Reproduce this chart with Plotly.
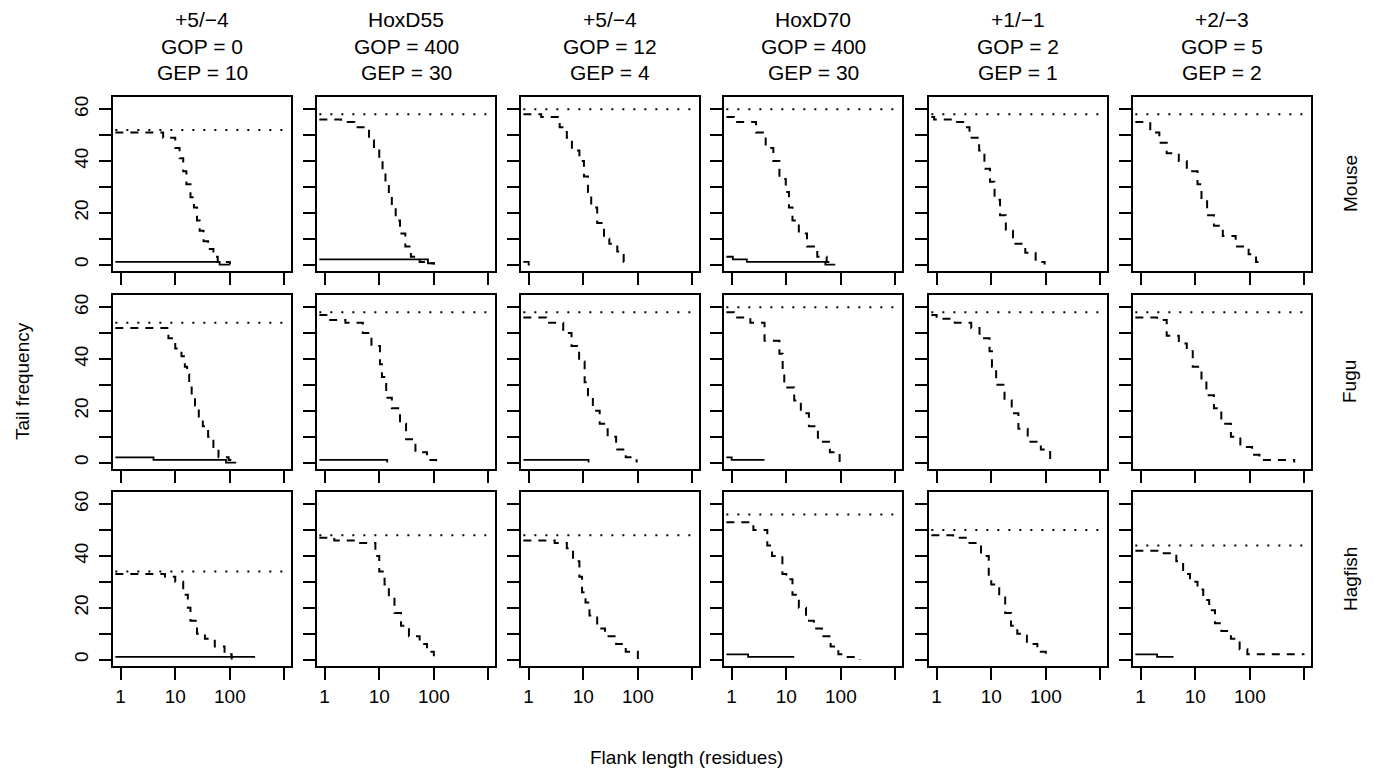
import plotly.graph_objects as go

# ---------------- data ----------------
col_line1 = ["+5/\u22124", "HoxD55", "+5/\u22124", "HoxD70", "+1/\u22121", "+2/\u22123"]
col_line2 = ["GOP = 0", "GOP = 400", "GOP = 12", "GOP = 400", "GOP = 2", "GOP = 5"]
col_line3 = ["GEP = 10", "GEP = 30", "GEP = 4", "GEP = 30", "GEP = 1", "GEP = 2"]
row_names = ["Mouse", "Fugu", "Hagfish"]

x_ticks = [1, 10, 100, 1000]
x_tick_text = ["1", "10", "100", ""]
y_ticks = [0, 10, 20, 30, 40, 50, 60]
y_tick_text = ["0", "", "20", "", "40", "", "60"]

dotted_x = [0.8, 1000]
mouse_dotted = [52, 58, 60, 60, 58, 58]
fugu_dotted = [54, 58, 58, 60, 58, 58]
hagfish_dotted = [34, 48, 48, 56, 50, 44]

mouse_dash_x = [
    [0.8, 6, 10, 12, 14, 16, 19, 22, 25, 28, 33, 40, 50, 60, 100],
    [0.8, 2, 3.5, 6.5, 8, 10, 11.5, 13, 15, 17, 20, 24, 30, 38, 55, 80, 100],
    [0.8, 1.7, 3.7, 5, 6.2, 8.5, 10.3, 12.2, 14, 18, 24, 30, 42, 55, 66],
    [0.8, 1.1, 2.8, 4.2, 5.8, 7.5, 9.8, 11.2, 13, 17, 24, 37, 55, 75],
    [0.8, 0.9, 2, 3.3, 4, 6, 7.5, 9.5, 11.5, 14.5, 18.5, 25, 42, 65, 95],
    [0.8, 1.5, 2.2, 3, 5, 7, 11, 13, 16.5, 22, 32, 55, 95, 130, 165],
]
mouse_dash_y = [
    [51, 49, 45, 41, 36, 31, 26, 22, 17, 13, 9, 6, 3, 1, 0],
    [56, 55, 53, 48, 44, 40, 36, 32, 27, 22, 17, 12, 7, 3, 1, 0.5, 0],
    [58, 57, 53, 49, 44, 40, 34, 28, 22, 16, 10, 8, 5, 1, 0],
    [57, 55, 51, 45, 40, 33, 28, 22, 17, 12, 7, 3, 1, 0],
    [57, 56, 55, 53, 49, 44, 37, 32, 25, 19, 13, 8, 4.5, 1, 0],
    [55, 51, 47, 43, 40, 36, 31, 25, 19, 15, 11, 7, 4, 1, 0],
]
fugu_dash_x = [
    [0.8, 7.5, 10, 13, 15, 16.5, 18, 20, 23, 27, 32, 40, 50, 62, 95, 130],
    [0.8, 1.2, 2.4, 5, 7.2, 10.3, 11.2, 13.4, 17, 24, 31, 46, 75, 110],
    [0.8, 2.1, 4.3, 6.1, 8.4, 10.6, 12.2, 15, 20, 28, 40, 60, 95],
    [0.8, 1.1, 2.2, 4, 7.5, 8.6, 9.2, 14, 18.5, 26, 38, 63, 95],
    [0.8, 1, 2.15, 4.3, 6.1, 9.3, 10.3, 12.3, 17.5, 23.7, 31.4, 46.5, 81, 120],
    [0.8, 2, 3, 5, 7, 9, 13, 16, 22, 30, 45, 67, 110, 150, 650],
]
fugu_dash_y = [
    [52, 48, 44, 41, 37, 34, 30, 26, 22, 17, 14, 10, 6, 2, 1, 0],
    [57, 55, 54, 50, 45, 38, 33, 25, 21, 15, 9, 4, 1, 0],
    [56, 54, 50, 45, 39, 31, 26, 20, 15, 10, 5, 2, 0],
    [58, 56, 54, 47, 42, 36, 29, 24, 19, 14, 8, 4, 0],
    [57, 55.5, 54, 52, 48, 43, 37, 30, 24, 19, 13, 8, 5, 0],
    [56, 55, 49, 46, 43, 37, 32, 26, 21, 15, 10, 6, 3, 1, 0],
]
hagfish_dash_x = [
    [0.8, 6.5, 10, 14, 17, 19, 25, 35, 53, 80, 108],
    [0.8, 1.5, 4, 8.5, 10, 12.5, 15, 19, 25, 35, 55, 75, 100],
    [0.8, 3, 5, 6.5, 8.5, 9.5, 11, 13, 18, 25, 40, 60, 100],
    [0.8, 2.5, 4.5, 5.5, 8.5, 10, 13, 17, 23, 32, 45, 65, 90, 120, 220],
    [0.8, 2, 4, 6.5, 9, 10, 14, 18, 23, 30, 45, 70, 100],
    [0.8, 2.5, 4.5, 6, 8, 11, 14, 18, 23, 30, 45, 65, 90, 1000],
]
hagfish_dash_y = [
    [33, 32, 30, 25, 20, 15, 10, 8, 5, 2, 0],
    [47, 46, 45, 40, 34, 29, 24, 18, 13, 9, 6, 3, 0],
    [46, 45, 43, 38, 32, 26, 22, 17, 12, 9, 6, 3, 0],
    [53, 50, 44, 40, 33, 31, 25, 20, 15, 12, 9, 5, 2, 1, 0],
    [48, 47, 45, 40, 32, 29, 24, 18, 13, 10, 6, 3, 0],
    [42, 41, 38, 33, 30, 27, 23, 19, 14, 11, 8, 4, 2, 2],
]

mouse_solid_x = [[0.8, 65, 100], [0.8, 78, 100], [0.8, 1.0, 1.05], [0.8, 1.05, 1.9, 52, 79], [], []]
mouse_solid_y = [[1, 0, 0], [2, 0.5, 0], [1, 0, 0], [3, 2, 1, 0, 0], [], []]
fugu_solid_x = [[0.8, 4, 85, 130], [0.8, 14], [0.8, 12.5], [0.8, 1.0, 4], [], []]
fugu_solid_y = [[2, 1, 0, 0], [1, 0], [1, 0], [2, 1, 1], [], []]
hagfish_solid_x = [[0.8, 290], [], [], [0.8, 2, 14], [], [0.8, 2, 4]]
hagfish_solid_y = [[1, 1], [], [], [2, 1, 1], [], [2, 1, 1]]

dotted_rows = [mouse_dotted, fugu_dotted, hagfish_dotted]
dash_x_rows = [mouse_dash_x, fugu_dash_x, hagfish_dash_x]
dash_y_rows = [mouse_dash_y, fugu_dash_y, hagfish_dash_y]
solid_x_rows = [mouse_solid_x, fugu_solid_x, hagfish_solid_x]
solid_y_rows = [mouse_solid_y, fugu_solid_y, hagfish_solid_y]

# ---------------- layout geometry (pixels) ----------------
W, H = 1373, 768
col_left = [113, 317, 521, 724, 929, 1133]
panel_w = 178
row_top = [97, 295, 492]
panel_h = 174

FONT = "Liberation Sans, Arial, sans-serif"
FS = 19
FS_TITLE = 21

fig = go.Figure()
layout = dict(
    width=W, height=H, margin=dict(l=0, r=0, t=0, b=0),
    paper_bgcolor="white", plot_bgcolor="white", showlegend=False,
    font=dict(family=FONT, size=FS, color="black"),
)

annotations = []
for r in range(3):
    for c in range(6):
        k = r * 6 + c + 1
        xa = "x" if k == 1 else f"x{k}"
        ya = "y" if k == 1 else f"y{k}"
        xd = [col_left[c] / W, (col_left[c] + panel_w) / W]
        yd = [1 - (row_top[r] + panel_h) / H, 1 - row_top[r] / H]
        layout["xaxis" if k == 1 else f"xaxis{k}"] = dict(
            domain=xd, anchor=ya, type="log", range=[-0.14, 3.12],
            tickvals=x_ticks, ticktext=x_tick_text, showticklabels=(r == 2),
            ticks="outside", ticklen=12, tickwidth=1.5, tickcolor="black",
            showline=True, linecolor="black", linewidth=1.6, mirror=True,
            showgrid=False, zeroline=False, ticklabelstandoff=0,
            tickfont=dict(family=FONT, size=FS, color="black"),
        )
        layout["yaxis" if k == 1 else f"yaxis{k}"] = dict(
            domain=yd, anchor=xa, range=[-2.5, 64.7],
            tickvals=y_ticks, ticktext=y_tick_text, showticklabels=(c == 0),
            tickangle=-90,
            ticks="outside", ticklen=12, tickwidth=1.5, tickcolor="black",
            showline=True, linecolor="black", linewidth=1.6, mirror=True,
            showgrid=False, zeroline=False, ticklabelstandoff=4,
            tickfont=dict(family=FONT, size=FS, color="black"),
        )
        lv = dotted_rows[r][c]
        fig.add_trace(go.Scatter(
            x=dotted_x, y=[lv, lv], xaxis=xa, yaxis=ya, mode="lines",
            line=dict(color="black", width=2, dash="2px,9px"), hoverinfo="skip"))
        fig.add_trace(go.Scatter(
            x=dash_x_rows[r][c], y=dash_y_rows[r][c], xaxis=xa, yaxis=ya, mode="lines",
            line=dict(color="black", width=2, dash="8px,7px", shape="hv"), hoverinfo="skip"))
        if solid_x_rows[r][c]:
            fig.add_trace(go.Scatter(
                x=solid_x_rows[r][c], y=solid_y_rows[r][c], xaxis=xa, yaxis=ya, mode="lines",
                line=dict(color="black", width=1.8, shape="hv"), hoverinfo="skip"))

# column titles
for c in range(6):
    cx = (col_left[c] + panel_w / 2) / W
    for txt, py in zip([col_line1[c], col_line2[c], col_line3[c]], [20, 46, 72]):
        annotations.append(dict(text=txt, x=cx, y=1 - py / H, xref="paper", yref="paper",
                                showarrow=False, xanchor="center", yanchor="middle",
                                font=dict(family=FONT, size=FS_TITLE, color="black")))
# row labels
for r in range(3):
    cy = 1 - (row_top[r] + panel_h / 2) / H
    annotations.append(dict(text=row_names[r], x=1350 / W, y=cy, xref="paper", yref="paper",
                            showarrow=False, textangle=-90, xanchor="center", yanchor="middle",
                            font=dict(family=FONT, size=FS, color="black")))
# axis titles
annotations.append(dict(text="Tail frequency", x=22 / W, y=1 - 381 / H, xref="paper", yref="paper",
                        showarrow=False, textangle=-90, xanchor="center", yanchor="middle",
                        font=dict(family=FONT, size=FS, color="black")))
annotations.append(dict(text="Flank length (residues)", x=686 / W, y=1 - 757 / H, xref="paper",
                        yref="paper", showarrow=False, xanchor="center", yanchor="middle",
                        font=dict(family=FONT, size=FS, color="black")))
layout["annotations"] = annotations
fig.update_layout(**layout)
fig.write_html("out.html")
